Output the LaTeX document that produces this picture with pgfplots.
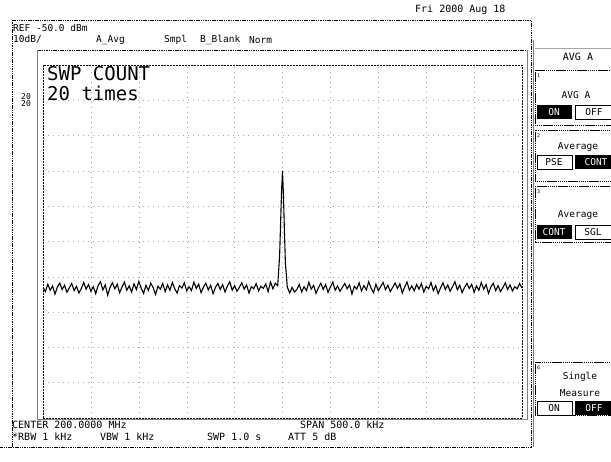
\documentclass[border=0pt]{standalone}
\usepackage{fontspec}
\setmainfont{DejaVu Sans Mono}
\usepackage{pgfplots}
\pgfplotsset{compat=1.18}

\pgfplotstableread{
f p
-250 -113.0
-247.5 -114.2
-245 -112.1
-242.5 -113.8
-240 -112.6
-237.5 -114.9
-235 -112.9
-232.5 -111.8
-230 -113.6
-227.5 -112.4
-225 -114.4
-222.5 -113.1
-220 -111.9
-217.5 -113.9
-215 -112.7
-212.5 -114.6
-210 -113.3
-207.5 -111.6
-205 -113.5
-202.5 -112.2
-200 -114.1
-197.5 -112.8
-195 -114.8
-192.5 -112.5
-190 -111.4
-187.5 -113.7
-185 -112.3
-182.5 -115.2
-180 -113.0
-177.5 -111.7
-175 -113.4
-172.5 -112.1
-170 -114.5
-167.5 -112.9
-165 -111.5
-162.5 -113.8
-160 -112.6
-157.5 -114.3
-155 -112.0
-152.5 -113.6
-150 -111.3
-147.5 -113.2
-145 -114.7
-142.5 -112.4
-140 -113.9
-137.5 -111.8
-135 -113.1
-132.5 -115.0
-130 -112.7
-127.5 -113.5
-125 -111.9
-122.5 -114.2
-120 -112.3
-117.5 -113.8
-115 -111.6
-112.5 -113.4
-110 -114.6
-107.5 -112.5
-105 -113.2
-102.5 -111.7
-100 -114.0
-97.5 -112.8
-95 -113.9
-92.5 -111.5
-90 -113.3
-87.5 -112.1
-85 -114.5
-82.5 -112.9
-80 -111.8
-77.5 -113.7
-75 -112.4
-72.5 -114.8
-70 -113.0
-67.5 -111.9
-65 -113.6
-62.5 -112.2
-60 -114.3
-57.5 -112.6
-55 -111.4
-52.5 -113.8
-50 -112.5
-47.5 -114.1
-45 -113.0
-42.5 -111.7
-40 -113.5
-37.5 -112.3
-35 -114.6
-32.5 -112.8
-30 -113.4
-27.5 -111.9
-25 -114.0
-22.5 -112.7
-20 -113.3
-17.5 -112.0
-15 -114.2
-12.5 -111.5
-10 -113.4
-7.5 -111.8
-5 -112.5
-3 -104.0
-2 -95.0
-1 -86.0
0 -80.0
1 -87.0
2 -97.0
3 -106.0
5 -112.9
7.5 -114.6
10 -113.0
12.5 -114.3
15 -113.6
17.5 -112.2
20 -114.3
22.5 -112.8
25 -113.9
27.5 -111.6
30 -113.5
32.5 -112.4
35 -114.7
37.5 -113.1
40 -111.8
42.5 -113.6
45 -112.2
47.5 -114.4
50 -112.9
52.5 -111.5
55 -113.8
57.5 -112.6
60 -114.1
62.5 -113.0
65 -111.9
67.5 -113.4
70 -112.3
72.5 -114.9
75 -112.7
77.5 -113.5
80 -111.7
82.5 -114.0
85 -112.5
87.5 -113.7
90 -111.4
92.5 -113.2
95 -114.5
97.5 -112.1
100 -113.9
102.5 -112.8
105 -111.6
107.5 -113.6
110 -112.4
112.5 -114.2
115 -113.0
117.5 -111.8
120 -113.3
122.5 -112.0
125 -114.6
127.5 -112.9
130 -111.5
132.5 -113.8
135 -112.6
137.5 -114.0
140 -112.2
142.5 -113.5
145 -111.9
147.5 -114.3
150 -112.7
152.5 -113.4
155 -111.6
157.5 -113.9
160 -112.5
162.5 -114.8
165 -113.1
167.5 -111.7
170 -113.6
172.5 -112.3
175 -114.1
177.5 -112.8
180 -111.4
182.5 -113.7
185 -112.4
187.5 -114.5
190 -113.0
192.5 -111.9
195 -113.3
197.5 -112.1
200 -114.4
202.5 -112.6
205 -113.8
207.5 -111.6
210 -113.5
212.5 -112.2
215 -114.7
217.5 -112.9
220 -111.8
222.5 -113.9
225 -112.5
227.5 -114.2
230 -113.1
232.5 -111.7
235 -113.6
237.5 -112.3
240 -114.0
242.5 -112.8
245 -113.4
247.5 -111.9
250 -113.2
}\trace

\begin{document}
\begin{tikzpicture}
\path[use as bounding box] (0pt,0pt) rectangle (611pt,462pt);

\begin{axis}[
  at={(43pt,44pt)}, anchor=south west,
  width=479pt, height=353pt, scale only axis,
  xmin=-250, xmax=250, ymin=-150, ymax=-50,
  xtick={-250,-200,...,250}, ytick={-150,-140,...,-50},
  xticklabels={}, yticklabels={},
  major tick length=0pt,
  grid=major,
  major grid style={gray!70, dash pattern=on 1pt off 4pt},
  axis line style={black, dash pattern=on 2pt off 1pt},
  clip=true,
]
\addplot[black, line width=1.1pt] table[x=f, y=p] {\trace};
\end{axis}

\begin{scope}[x=1pt, y=1pt, shift={(0,462)}, yscale=-1]
  % frames
  \draw[black, dash pattern=on 1.5pt off 0.8pt] (12,20) -- (531,20) -- (531,447) -- (0,447);
  \draw[black, dash pattern=on 1.5pt off 0.8pt] (12,20) -- (12,447);
  \draw[black, dash pattern=on 1.5pt off 0.8pt] (37,50) -- (527,50);
  \draw[gray, line width=1pt] (37,50) -- (37,420) -- (527,420) -- (527,50);
  \draw[gray, line width=1pt] (533,40) -- (533,447);

  % header texts
  \node[anchor=west, font=\fontsize{10}{10}\selectfont, inner sep=0] at (415,10) {Fri 2000 Aug 18};
  \node[anchor=west, font=\fontsize{9.5}{10}\selectfont, inner sep=0] at (13,28) {REF -50.0 dBm};
  \node[anchor=west, font=\fontsize{9.5}{10}\selectfont, inner sep=0] at (13,39) {10dB/};
  \node[anchor=west, font=\fontsize{9.5}{10}\selectfont, inner sep=0] at (96,40) {A\_Avg};
  \node[anchor=west, font=\fontsize{9.5}{10}\selectfont, inner sep=0] at (164,40) {Smpl};
  \node[anchor=west, font=\fontsize{9.5}{10}\selectfont, inner sep=0] at (200,40) {B\_Blank};
  \node[anchor=west, font=\fontsize{9.5}{10}\selectfont, inner sep=0] at (249,40) {Norm};

  \node[anchor=west, font=\fontsize{19}{19}\selectfont, inner sep=0] at (47,74) {SWP COUNT};
  \node[anchor=west, font=\fontsize{19}{19}\selectfont, inner sep=0] at (47,93) {20 times};
  \node[anchor=west, font=\fontsize{8}{8}\selectfont, inner sep=0] at (21,97) {20};
  \node[anchor=west, font=\fontsize{8}{8}\selectfont, inner sep=0] at (21,104) {20};

  % footer texts
  \node[anchor=west, font=\fontsize{10}{10}\selectfont, inner sep=0] at (12,425) {CENTER 200.0000 MHz};
  \node[anchor=west, font=\fontsize{10}{10}\selectfont, inner sep=0] at (300,425) {SPAN 500.0 kHz};
  \node[anchor=west, font=\fontsize{10}{10}\selectfont, inner sep=0] at (12,437) {*RBW 1 kHz};
  \node[anchor=west, font=\fontsize{10}{10}\selectfont, inner sep=0] at (100,437) {VBW 1 kHz};
  \node[anchor=west, font=\fontsize{10}{10}\selectfont, inner sep=0] at (207,437) {SWP 1.0 s};
  \node[anchor=west, font=\fontsize{10}{10}\selectfont, inner sep=0] at (288,437) {ATT 5 dB};

  % softkeys
  \tikzset{sk/.style={font=\fontsize{9.5}{9.5}\selectfont, inner sep=0},
           skbox/.style={draw=black, dash pattern=on 1.5pt off 0.6pt, line width=0.8pt}}
  \node[sk, font=\fontsize{10}{10}\selectfont] at (578,57) {AVG A};
  \draw[gray!70] (535,48) -- (611,48);

  \draw[skbox] (535,70) rectangle (612,125);
  \node[anchor=west, font=\fontsize{5}{5}\selectfont, inner sep=0] at (537,76) {1};
  \node[sk] at (576,95) {AVG A};
  \fill[black] (537,105) rectangle (572,119);
  \node[sk, text=white] at (554,112) {ON};
  \draw[black] (575,105) rectangle (612,119);
  \node[sk] at (594,112) {OFF};

  \draw[skbox] (535,130) rectangle (612,181);
  \node[anchor=west, font=\fontsize{5}{5}\selectfont, inner sep=0] at (537,136) {2};
  \node[sk] at (578,147) {Average};
  \draw[black] (537,155) rectangle (572,169);
  \node[sk] at (554,162) {PSE};
  \fill[black] (575,155) rectangle (612,169);
  \node[sk, text=white] at (596,162) {CONT};

  \draw[skbox] (535,186) rectangle (612,242);
  \node[anchor=west, font=\fontsize{5}{5}\selectfont, inner sep=0] at (537,192) {3};
  \node[sk] at (578,215) {Average};
  \fill[black] (537,225) rectangle (572,239);
  \node[sk, text=white] at (554,232) {CONT};
  \draw[black] (575,225) rectangle (612,239);
  \node[sk] at (593,232) {SGL};

  \draw[skbox] (535,362) rectangle (612,415);
  \node[anchor=west, font=\fontsize{5}{5}\selectfont, inner sep=0] at (537,368) {6};
  \node[sk] at (580,377) {Single};
  \node[sk] at (580,393) {Measure};
  \draw[black] (537,401) rectangle (572,415);
  \node[sk] at (554,408) {ON};
  \fill[black] (575,401) rectangle (612,415);
  \node[sk, text=white] at (594,408) {OFF};
\end{scope}
\end{tikzpicture}
\end{document}
